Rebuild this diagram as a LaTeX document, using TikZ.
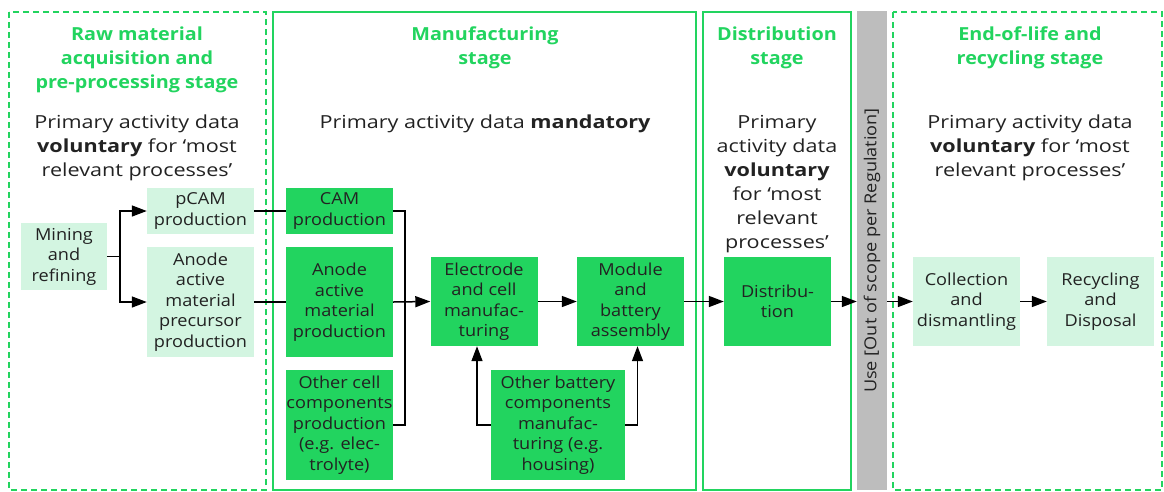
\documentclass[tikz,border=0pt]{standalone}
\usepackage{fontspec}
\setmainfont{Open Sans}[FakeStretch=1.2]
\newfontfamily\boxfont{Open Sans}[FakeStretch=1.1]
\newfontfamily\headfont{Open Sans}[FakeStretch=1.1]
\usepackage{tikz}
\usetikzlibrary{arrows.meta}
\definecolor{stagegreen}{HTML}{22D45F}
\definecolor{palegreen}{HTML}{D3F5E1}
\definecolor{usegrey}{HTML}{BDBDBD}
\definecolor{inkdark}{HTML}{222222}
\tikzset{
  procbox/.style={fill=stagegreen, text=inkdark, align=center, inner sep=0pt,
    minimum width=107pt, font=\boxfont\fontsize{16.5}{20.5}\selectfont},
  paleproc/.style={procbox, fill=palegreen},
  stagehead/.style={text=stagegreen, align=center, font=\headfont\fontsize{18}{24}\selectfont\bfseries},
  datanote/.style={text=inkdark, align=center, font=\fontsize{18}{24}\selectfont},
  stageframe/.style={draw=stagegreen, line width=2pt},
  openframe/.style={stageframe, dash pattern=on 6pt off 4pt},
  flow/.style={line width=1.5pt, -{Triangle[length=15pt,width=11pt]}},
  link/.style={line width=1.5pt}
}

\begin{document}
\begin{tikzpicture}[x=1pt,y=-1pt]
\useasboundingbox (0,0) rectangle (1164,491);
\draw[openframe] (9,12) rectangle (266,490);
\draw[stageframe] (273,12) rectangle (696,490);
\draw[stageframe] (703,12) rectangle (851,490);
\draw[openframe] (893,12) rectangle (1162,490);
\node[fill=usegrey, text=inkdark, rotate=90, minimum width=479pt, minimum height=30pt, inner sep=0pt,
  font=\boxfont\fontsize{16.5}{20}\selectfont] (usebar) at (872,250.5) {Use [Out of scope per Regulation]};

\node[stagehead] (rawhead) at (137,60) {Raw material\\acquisition and\\pre-processing stage};
\node[stagehead] (manhead) at (485,48) {Manufacturing\\stage};
\node[stagehead] (disthead) at (777,48) {Distribution\\stage};
\node[stagehead] (eolhead) at (1030,48) {End-of-life and\\recycling stage};
\node[datanote] (rawnote) at (137,148) {Primary activity data\\\textbf{voluntary} for ‘most\\relevant processes’};
\node[datanote] (mannote) at (485,124) {Primary activity data \textbf{mandatory}};
\node[datanote] (distnote) at (777,184) {Primary\\activity data\\\textbf{voluntary}\\for ‘most\\relevant\\processes’};
\node[datanote] (eolnote) at (1030,148) {Primary activity data\\\textbf{voluntary} for ‘most\\relevant processes’};

\node[paleproc, minimum width=86pt, minimum height=67pt] (mining) at (64,256.5) {Mining\\and\\refining};
\node[paleproc, minimum height=46pt] (pcam) at (200.5,211) {pCAM\\production};
\node[paleproc, minimum height=110pt] (precursor) at (200.5,302) {Anode\\active\\material\\precursor\\production};
\node[procbox, minimum height=46pt] (cam) at (339.5,211) {CAM\\production};
\node[procbox, minimum height=110pt] (anode) at (339.5,302) {Anode\\active\\material\\production};
\node[procbox, minimum height=110pt] (othercell) at (339.5,425) {Other cell\\components\\production\\(e.g. elec-\\trolyte)};
\node[procbox, minimum height=89pt] (electrode) at (484,301.5) {Electrode\\and cell\\manufac-\\turing};
\node[procbox, minimum height=89pt] (module) at (630.5,301.5) {Module\\and\\battery\\assembly};
\node[procbox, minimum width=134pt, minimum height=110pt] (otherbat) at (558,425) {Other battery\\components\\manufac-\\turing (e.g.\\housing)};
\node[procbox, minimum height=89pt] (distrib) at (777.5,301.5) {Distribu-\\tion};
\node[paleproc, minimum height=89pt] (collect) at (966.5,301.5) {Collection\\and\\dismantling};
\node[paleproc, minimum height=89pt] (recycle) at (1100.5,301.5) {Recycling\\and\\Disposal};

\coordinate (split) at (120,256.5);
\coordinate (merge) at (405,302);
\draw[link] (mining.east) -- (split);
\draw[flow] (split) |- (pcam.west);
\draw[flow] (split) |- (precursor.west);
\draw[link] (pcam.east) -- (cam.west);
\draw[link] (precursor.east) -- (anode.west);
\draw[link] (cam.east) -| (merge);
\draw[link] (othercell.east) -| (merge);
\draw[flow] (anode.east) -- (electrode.west);
\draw[flow] (electrode.east) -- (module.west);
\draw[flow] (otherbat.west) -| ([xshift=-7pt]electrode.south);
\draw[flow] (otherbat.east) -| ([xshift=7pt]module.south);
\draw[flow] (module.east) -- (distrib.west);
\draw[flow] (distrib.east) -- (distrib.east -| usebar.north);
\draw[flow] (collect.west -| usebar.south) -- (collect.west);
\draw[flow] (collect.east) -- (recycle.west);
\end{tikzpicture}
\end{document}
